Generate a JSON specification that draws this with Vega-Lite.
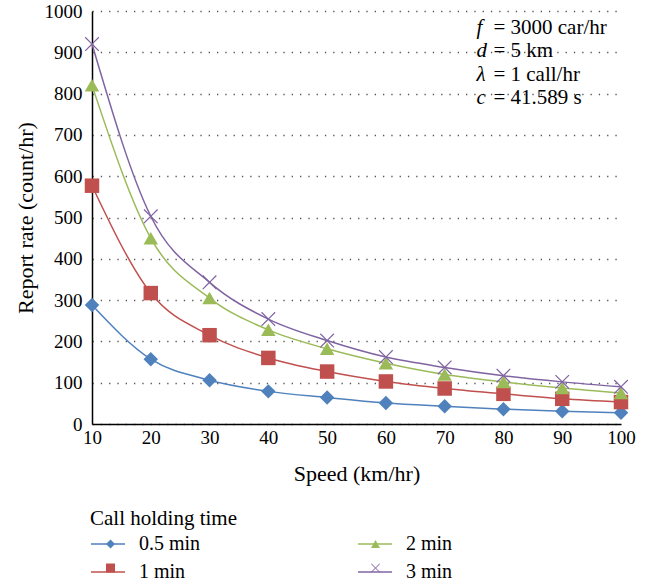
{
  "$schema": "https://vega.github.io/schema/vega-lite/v6.json",
  "width": 529,
  "height": 413,
  "autosize": {"type": "none"},
  "padding": {"left": 92, "top": 11, "right": 27, "bottom": 162},
  "background": "white",
  "config": {
    "font": "Liberation Serif",
    "view": {"stroke": null},
    "axis": {
      "labelFont": "Liberation Serif",
      "titleFont": "Liberation Serif",
      "labelColor": "black",
      "titleColor": "black",
      "labelFontSize": 19,
      "titleFontSize": 22,
      "titleFontWeight": "normal",
      "domainColor": "black",
      "domainWidth": 1.5,
      "ticks": false
    }
  },
  "data": {
    "values": [
      {"speed": 10, "rate": 288, "series": "0.5 min"},
      {"speed": 20, "rate": 157, "series": "0.5 min"},
      {"speed": 30, "rate": 106, "series": "0.5 min"},
      {"speed": 40, "rate": 79, "series": "0.5 min"},
      {"speed": 50, "rate": 64, "series": "0.5 min"},
      {"speed": 60, "rate": 51, "series": "0.5 min"},
      {"speed": 70, "rate": 43, "series": "0.5 min"},
      {"speed": 80, "rate": 36, "series": "0.5 min"},
      {"speed": 90, "rate": 31, "series": "0.5 min"},
      {"speed": 100, "rate": 27, "series": "0.5 min"},
      {"speed": 10, "rate": 577, "series": "1 min"},
      {"speed": 20, "rate": 317, "series": "1 min"},
      {"speed": 30, "rate": 215, "series": "1 min"},
      {"speed": 40, "rate": 160, "series": "1 min"},
      {"speed": 50, "rate": 127, "series": "1 min"},
      {"speed": 60, "rate": 103, "series": "1 min"},
      {"speed": 70, "rate": 86, "series": "1 min"},
      {"speed": 80, "rate": 73, "series": "1 min"},
      {"speed": 90, "rate": 61, "series": "1 min"},
      {"speed": 100, "rate": 53, "series": "1 min"},
      {"speed": 10, "rate": 820, "series": "2 min"},
      {"speed": 20, "rate": 450, "series": "2 min"},
      {"speed": 30, "rate": 305, "series": "2 min"},
      {"speed": 40, "rate": 228, "series": "2 min"},
      {"speed": 50, "rate": 182, "series": "2 min"},
      {"speed": 60, "rate": 147, "series": "2 min"},
      {"speed": 70, "rate": 120, "series": "2 min"},
      {"speed": 80, "rate": 102, "series": "2 min"},
      {"speed": 90, "rate": 87, "series": "2 min"},
      {"speed": 100, "rate": 75, "series": "2 min"},
      {"speed": 10, "rate": 920, "series": "3 min"},
      {"speed": 20, "rate": 503, "series": "3 min"},
      {"speed": 30, "rate": 343, "series": "3 min"},
      {"speed": 40, "rate": 254, "series": "3 min"},
      {"speed": 50, "rate": 202, "series": "3 min"},
      {"speed": 60, "rate": 162, "series": "3 min"},
      {"speed": 70, "rate": 137, "series": "3 min"},
      {"speed": 80, "rate": 117, "series": "3 min"},
      {"speed": 90, "rate": 102, "series": "3 min"},
      {"speed": 100, "rate": 90, "series": "3 min"}
    ]
  },
  "layer": [
    {
      "mark": {"type": "line", "interpolate": "monotone", "strokeWidth": 1.5},
      "encoding": {
        "x": {
          "field": "speed",
          "type": "quantitative",
          "scale": {"domain": [10, 100], "nice": false, "zero": false},
          "axis": {
            "title": "Speed (km/hr)",
            "values": [10, 20, 30, 40, 50, 60, 70, 80, 90, 100],
            "grid": false,
            "labelPadding": 4,
            "titlePadding": 16,
            "labelFlush": false
          }
        },
        "y": {
          "field": "rate",
          "type": "quantitative",
          "scale": {"domain": [0, 1000], "nice": false},
          "axis": {
            "title": "Report rate (count/hr)",
            "values": [0, 100, 200, 300, 400, 500, 600, 700, 800, 900, 1000],
            "format": "d",
            "grid": true,
            "gridColor": "#555555",
            "gridDash": [1.3, 7],
            "gridWidth": 1.3,
            "labelPadding": 10,
            "titlePadding": 7
          }
        },
        "color": {
          "field": "series",
          "type": "nominal",
          "scale": {
            "domain": ["0.5 min", "1 min", "2 min", "3 min"],
            "range": ["#4F81BD", "#C0504D", "#9BBB59", "#8064A2"]
          },
          "legend": {
            "title": "Call holding time",
            "orient": "none",
            "legendX": -2,
            "legendY": 497,
            "columns": 2,
            "columnPadding": 154,
            "rowPadding": -11,
            "symbolType": "stroke",
            "symbolSize": 1156,
            "symbolStrokeWidth": 1.5,
            "labelOffset": 13,
            "labelFont": "Liberation Serif",
            "labelFontSize": 20,
            "labelColor": "black",
            "titleFont": "Liberation Serif",
            "titleFontSize": 21,
            "titleFontWeight": "normal",
            "titleColor": "black",
            "titlePadding": -3
          }
        }
      }
    },
    {
      "mark": {"type": "point", "filled": true, "opacity": 1, "size": 210},
      "encoding": {
        "x": {"field": "speed", "type": "quantitative"},
        "y": {"field": "rate", "type": "quantitative"},
        "color": {
          "field": "series",
          "type": "nominal",
          "legend": {
            "title": null,
            "orient": "none",
            "legendX": 8.5,
            "legendY": 523,
            "columns": 2,
            "columnPadding": 245,
            "rowPadding": 4,
            "symbolSize": 81,
            "symbolOpacity": 1,
            "labelOffset": 0,
            "labelExpr": "''",
            "labelFont": "Liberation Serif",
            "labelFontSize": 20,
            "encode": {
              "symbols": {"update": {"shape": {"scale": "shape", "field": "value"}}}
            }
          }
        },
        "shape": {
          "field": "series",
          "type": "nominal",
          "legend": null,
          "scale": {
            "domain": ["0.5 min", "1 min", "2 min", "3 min"],
            "range": ["diamond", "square", "triangle-up", "M-1,-0.88L-0.88,-1L0,-0.12L0.88,-1L1,-0.88L0.12,0L1,0.88L0.88,1L0,0.12L-0.88,1L-1,0.88L-0.12,0Z"]
          }
        }
      }
    },
    {
      "data": {"values": [{"note": "f"}]},
      "mark": {"type": "text", "font": "Liberation Serif", "fontStyle": "italic", "fontSize": 21, "align": "left", "baseline": "alphabetic", "lineHeight": 23.5, "color": "black"},
      "encoding": {
        "x": {"datum": 75.4},
        "y": {"datum": 945},
        "text": {"value": ["f", "d", "λ", "c"]}
      }
    },
    {
      "data": {"values": [{"note": "values"}]},
      "mark": {"type": "text", "font": "Liberation Serif", "fontSize": 21, "align": "left", "baseline": "alphabetic", "lineHeight": 23.5, "dx": 17, "color": "black"},
      "encoding": {
        "x": {"datum": 75.4},
        "y": {"datum": 945},
        "text": {"value": ["= 3000 car/hr", "= 5 km", "= 1 call/hr", "= 41.589 s"]}
      }
    }
  ],
  "resolve": {"legend": {"color": "independent"}}
}
